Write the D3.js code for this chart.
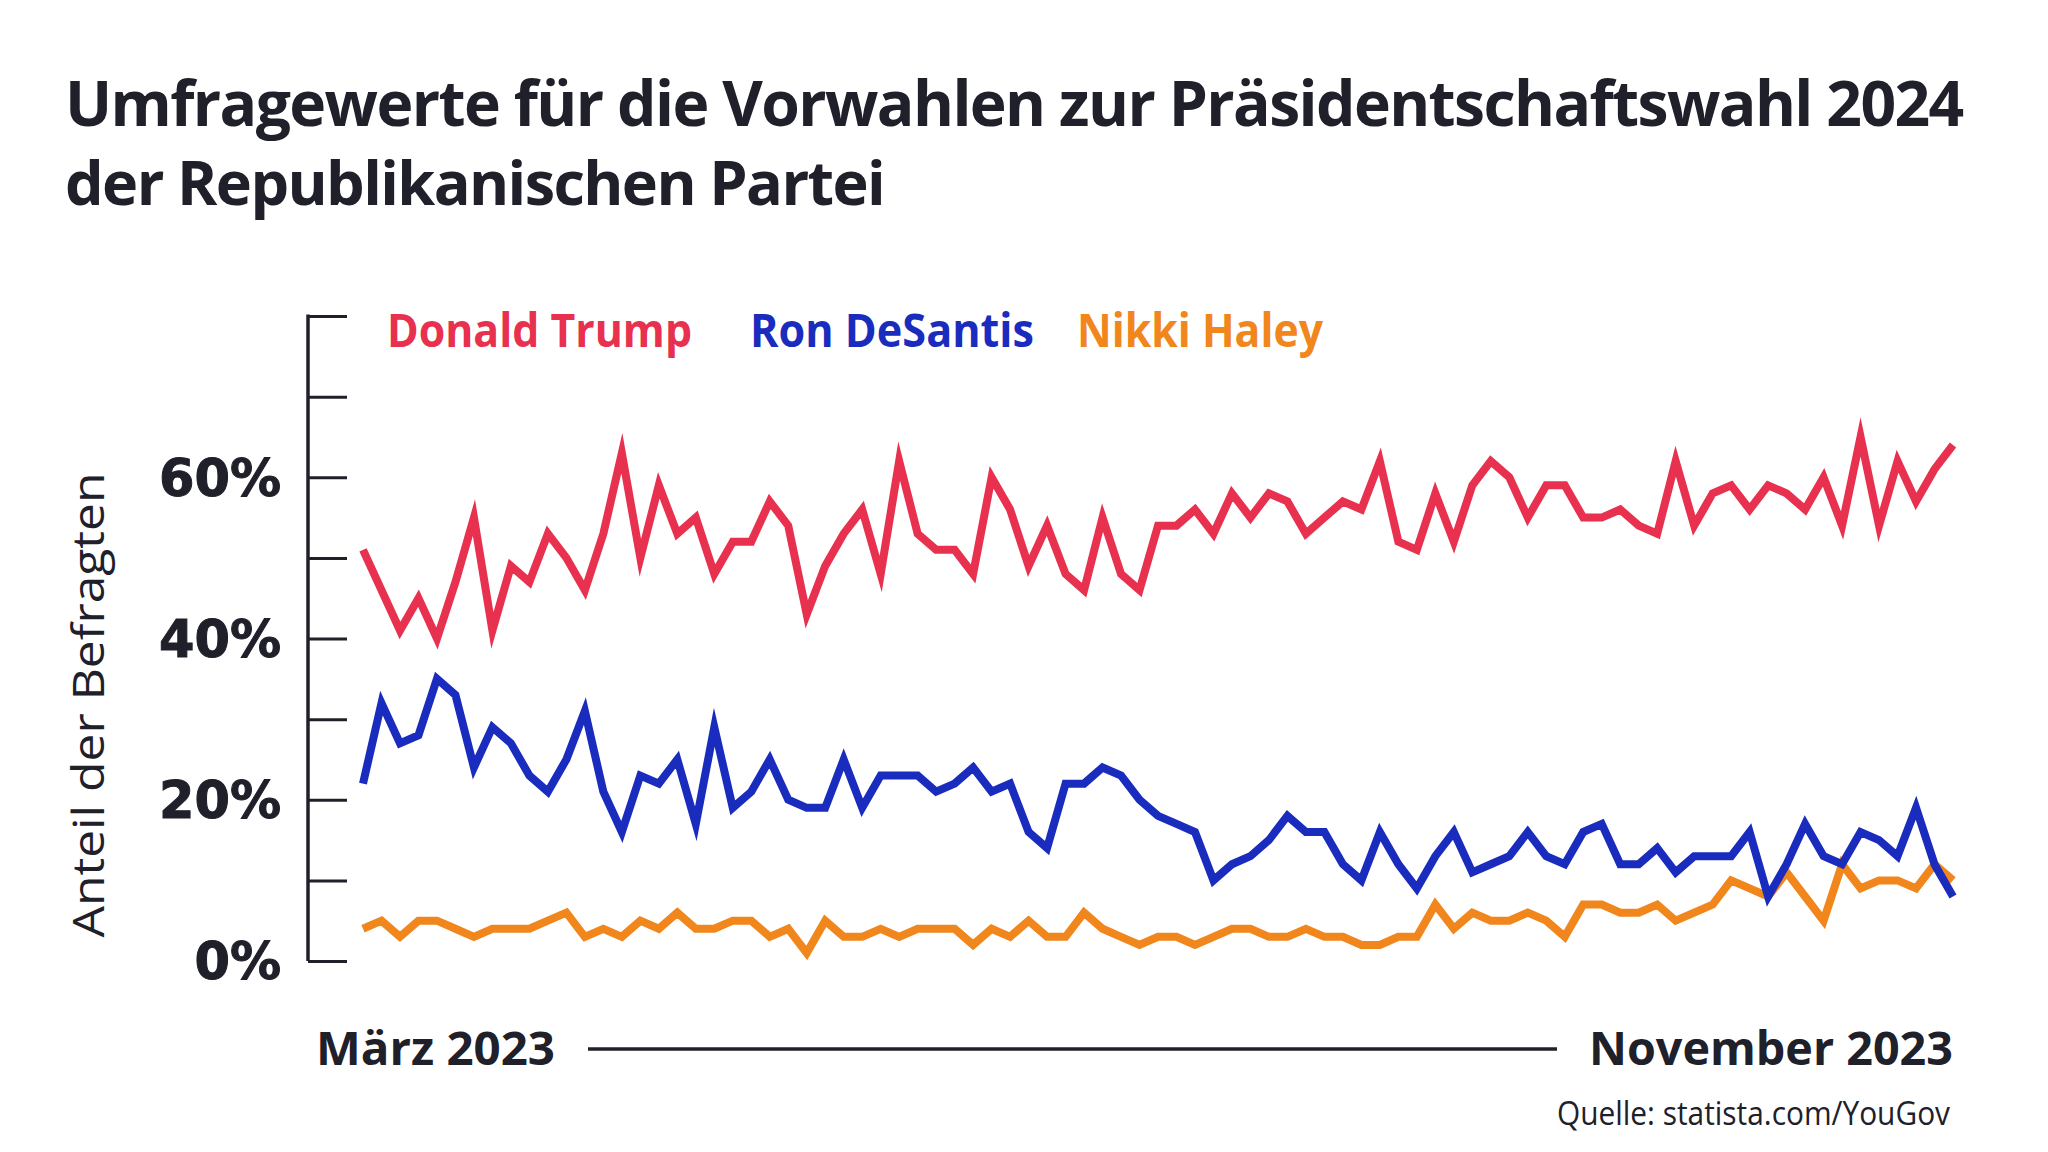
<!DOCTYPE html>
<html>
<head>
<meta charset="utf-8">
<script src="https://cdn.jsdelivr.net/npm/d3@7"></script>
<style>
  html, body { margin: 0; padding: 0; background: #ffffff; }
  svg { display: block; }
</style>
</head>
<body>
<svg id="chart" width="2048" height="1152"></svg>
<script>
// ---------- DATA ----------
const titleLines = ["Umfragewerte für die Vorwahlen zur Präsidentschaftswahl 2024", "der Republikanischen Partei"];
const seriesNames = ["Donald Trump", "Ron DeSantis", "Nikki Haley"];
const startLabel = "März 2023";
const endLabel = "November 2023";
const yAxisTitle = "Anteil der Befragten";
const sourceText = "Quelle: statista.com/YouGov";
const yTickValues = [0, 10, 20, 30, 40, 50, 60, 70, 80];
const yTickLabels = ["0%", "", "20%", "", "40%", "", "60%", "", ""];

const trump = [51,46,41,45,40,47,55,41,49,47,53,50,46,53,63,50,59,53,55,48,52,52,
  57,54,43,49,53,56,48,62,53,51,51,48,60,56,49,54,48,46,55,48,46,
  54,54,56,53,58,55,58,57,53,55,57,56,62,52,51,58,52,59,62,60,55,59,
  59,55,55,56,54,53,62,54,58,59,56,59,58,56,60,54,65,54,62,57,61,64];
const desantis = [22,32,27,28,35,33,24,29,27,23,21,25,31,21,16,23,22,25,17,29,19,21,
  25,20,19,19,25,19,23,23,23,21,22,24,21,22,16,14,22,22,24,23,20,
  18,17,16,10,12,13,15,18,16,16,12,10,16,12,9,13,16,11,12,13,16,13,
  12,16,17,12,12,14,11,13,13,13,16,8,12,17,13,12,16,15,13,19,12,8];
const haley = [4,5,3,5,5,4,3,4,4,4,5,6,3,4,3,5,4,6,4,4,5,5,
  3,4,1,5,3,3,4,3,4,4,4,2,4,3,5,3,3,6,4,3,2,
  3,3,2,3,4,4,3,3,4,3,3,2,2,3,3,7,4,6,5,5,6,5,
  3,7,7,6,6,7,5,6,7,10,9,8,11,8,5,12,9,10,10,9,12,10];

const colors = { trump: "#e8304f", desantis: "#1a2cbd", haley: "#f0861c" };
const ink = "#20202a";

// ---------- LAYOUT ----------
const svg = d3.select("#chart");
const plot = { left: 308, xStart: 363, xEnd: 1953, top: 316, bottom: 961 };

const x = d3.scaleLinear().domain([0, trump.length - 1]).range([plot.xStart, plot.xEnd]);
const y = d3.scaleLinear().domain([0, 80]).range([plot.bottom, plot.top]);

function fit(sel, w) {
  sel.attr("textLength", w).attr("lengthAdjust", "spacingAndGlyphs");
}

// Title: one text element, two lines; fitted by letter-spacing / size (no glyph squeezing)
const title = svg.append("text")
  .attr("font-family", "'Open Sans', sans-serif")
  .attr("font-weight", 700)
  .attr("fill", ink);
const titleTargets = [1902, 822];
titleLines.forEach((t, i) => {
  const ts = title.append("tspan")
    .attr("x", 65).attr("y", i === 0 ? 126 : 205)
    .attr("font-size", 65)
    .text(t);
  const node = ts.node();
  const n = t.length;
  let w0 = node.getComputedTextLength();
  let ls = Math.max(-1.6, Math.min(0, (titleTargets[i] - w0) / n));
  ts.attr("letter-spacing", ls);
  let w1 = node.getComputedTextLength();
  if (w1 > titleTargets[i]) {
    ts.attr("font-size", 65 * titleTargets[i] / w1);
  }
});

// Legend
const legendPos = [{x: 387, w: 305}, {x: 750, w: 284}, {x: 1077, w: 246}];
const legendColors = [colors.trump, colors.desantis, colors.haley];
seriesNames.forEach((n, i) => {
  const el = svg.append("text")
    .attr("x", legendPos[i].x).attr("y", 347)
    .attr("font-family", "'Open Sans', sans-serif")
    .attr("font-weight", 700)
    .attr("font-size", 46)
    .attr("fill", legendColors[i])
    .text(n);
  fit(el, legendPos[i].w);
});

// Y axis
const yAxis = d3.axisRight(y)
  .tickValues(yTickValues)
  .tickSize(39)
  .tickFormat("");
const gy = svg.append("g")
  .attr("transform", `translate(${plot.left},0)`)
  .call(yAxis);
gy.select(".domain").remove();
gy.selectAll(".tick line").attr("stroke", ink).attr("stroke-width", 3);
gy.append("line")
  .attr("x1", 0).attr("x2", 0)
  .attr("y1", y(80) - 1.5).attr("y2", y(0))
  .attr("stroke", ink).attr("stroke-width", 3.5);

// Y tick labels
svg.append("g").selectAll("text")
  .data(yTickValues.map((v, i) => ({ v, label: yTickLabels[i] })).filter(d => d.label))
  .join("text")
  .attr("x", 281)
  .attr("y", d => y(d.v))
  .attr("dy", "0.36em")
  .attr("text-anchor", "end")
  .attr("font-family", "'DejaVu Sans', sans-serif")
  .attr("font-weight", 700)
  .attr("font-size", 51)
  .attr("stroke", ink)
  .attr("stroke-width", 1)
  .attr("fill", ink)
  .text(d => d.label);

// Y axis title
const yt = svg.append("text")
  .attr("transform", `translate(104,705) rotate(-90)`)
  .attr("text-anchor", "middle")
  .attr("font-family", "'Open Sans', sans-serif")
  .attr("font-weight", 400)
  .attr("font-size", 44)
  .attr("fill", ink)
  .text(yAxisTitle);
fit(yt, 465);

// Lines
const line = d3.line().x((d, i) => x(i)).y(d => y(d));
[[haley, colors.haley], [desantis, colors.desantis], [trump, colors.trump]].forEach(([data, c]) => {
  svg.append("path")
    .datum(data)
    .attr("d", line)
    .attr("fill", "none")
    .attr("stroke", c)
    .attr("stroke-width", 8)
    .attr("stroke-linejoin", "miter")
    .attr("stroke-miterlimit", 10);
});

// Bottom time labels
const sl = svg.append("text")
  .attr("x", 316).attr("y", 1065)
  .attr("font-family", "'Open Sans', sans-serif")
  .attr("font-weight", 700)
  .attr("font-size", 46)
  .attr("fill", ink)
  .text(startLabel);
fit(sl, 239);
const el = svg.append("text")
  .attr("x", 1953).attr("y", 1065)
  .attr("text-anchor", "end")
  .attr("font-family", "'Open Sans', sans-serif")
  .attr("font-weight", 700)
  .attr("font-size", 46)
  .attr("fill", ink)
  .text(endLabel);
fit(el, 364);
svg.append("line")
  .attr("x1", 588).attr("x2", 1557)
  .attr("y1", 1049).attr("y2", 1049)
  .attr("stroke", ink).attr("stroke-width", 3.5);

// Source
const src = svg.append("text")
  .attr("x", 1950).attr("y", 1125)
  .attr("text-anchor", "end")
  .attr("font-family", "'Open Sans', sans-serif")
  .attr("font-weight", 400)
  .attr("font-size", 32)
  .attr("fill", ink)
  .text(sourceText);
fit(src, 393);
</script>
</body>
</html>
